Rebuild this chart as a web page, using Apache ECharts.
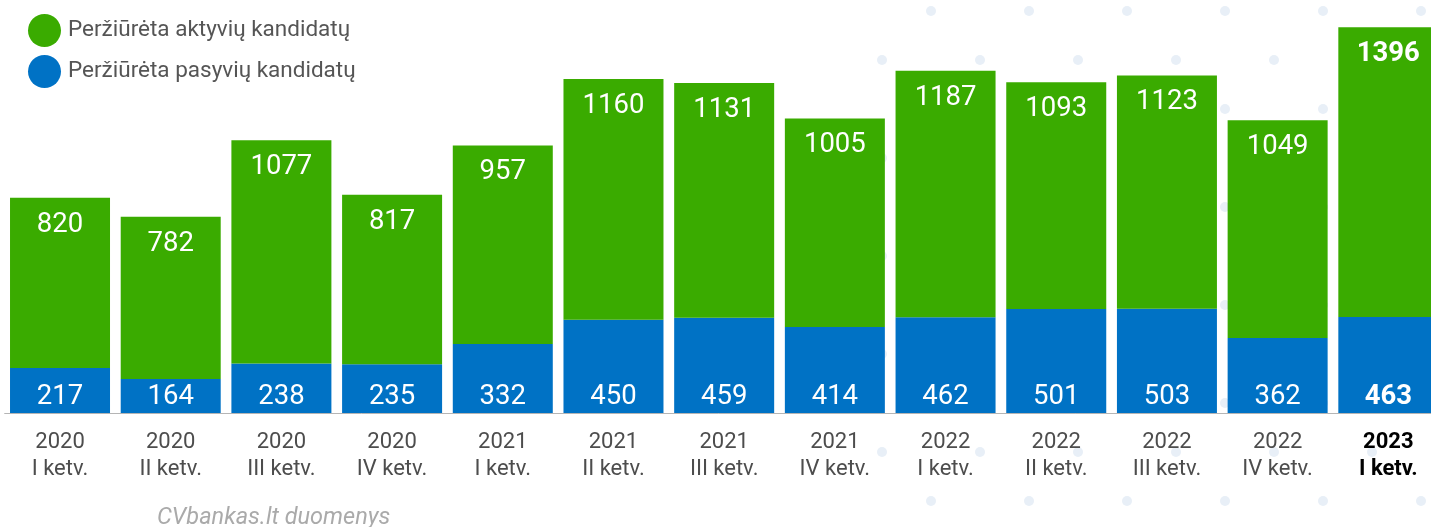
<!DOCTYPE html>
<html>
<head>
<meta charset="utf-8">
<script src="https://cdn.jsdelivr.net/npm/echarts@6/dist/echarts.min.js"></script>
<style>
html,body{margin:0;padding:0;background:#fff;}
#chart{width:1431px;height:527px;}
</style>
</head>
<body>
<div id="chart"></div>
<script>
const years = ['2020','2020','2020','2020','2021','2021','2021','2021','2022','2022','2022','2022','2023'];
const quarters = ['I ketv.','II ketv.','III ketv.','IV ketv.','I ketv.','II ketv.','III ketv.','IV ketv.','I ketv.','II ketv.','III ketv.','IV ketv.','I ketv.'];
const activeValues = [820,782,1077,817,957,1160,1131,1005,1187,1093,1123,1049,1396];
const passiveValues = [217,164,238,235,332,450,459,414,462,501,503,362,463];
const seriesNames = ['Peržiūrėta aktyvių kandidatų','Peržiūrėta pasyvių kandidatų'];
const sourceText = 'CVbankas.lt duomenys';

const GREEN = '#3aab00';
const BLUE = '#0072c5';
const lastIdx = years.length - 1;

const categories = years.map((y, i) => {
  const item = { value: y + '\n' + quarters[i] };
  if (i === lastIdx) item.textStyle = { fontWeight: 'bold', color: '#000' };
  return item;
});

function withBoldLast(arr) {
  return arr.map((v, i) => i === lastIdx ? { value: v, label: { fontWeight: 'bold' } } : v);
}

// decorative dot pattern (background ornament)
const dots = [];
for (let r = 0; r < 11; r++) {
  const y = 11 + r * 49;
  const x0 = (r % 2 === 0) ? 931 : 882;
  for (let x = x0; x < 1440; x += 98) {
    dots.push({ type: 'circle', z: -1, shape: { cx: x, cy: y, r: 5 }, style: { fill: '#e8eff7' }, silent: true });
  }
}

const chart = echarts.init(document.getElementById('chart'), null, { renderer: 'canvas' });
chart.setOption({
  animation: false,
  textStyle: { fontFamily: 'Roboto' },
  grid: { left: 4.67, right: -12.67, top: 18.75, bottom: 114, containLabel: false, outerBoundsMode: 'none' },
  legend: {
    orient: 'vertical',
    left: 23, top: 9,
    icon: 'circle',
    itemWidth: 33, itemHeight: 33,
    itemGap: 8,
    textStyle: { fontFamily: 'Roboto', fontSize: 22.5, color: '#555', padding: [3, 0, 0, 2] },
    data: seriesNames
  },
  xAxis: {
    type: 'category',
    data: categories,
    axisTick: { show: false },
    axisLine: { lineStyle: { color: '#b5b5b5', width: 1 } },
    axisLabel: { fontFamily: 'Roboto', fontSize: 22, color: '#4d4d4d', lineHeight: 27, margin: 16, interval: 0, hideOverlap: false }
  },
  yAxis: { type: 'value', min: 0, max: 1900, show: false, splitLine: { show: false } },
  graphic: dots.concat([{
    type: 'text', left: 157, top: 507,
    style: { text: sourceText, fontFamily: 'Roboto', fontStyle: 'italic', fontSize: 23.5, fill: '#aaa' }
  }]),
  series: [
    {
      name: seriesNames[1], type: 'bar', stack: 'total', barWidth: 100,
      itemStyle: { color: BLUE },
      label: { show: true, position: 'insideBottom', distance: 1.5, color: '#fff', fontFamily: 'Roboto', fontSize: 27.5 },
      data: withBoldLast(passiveValues)
    },
    {
      name: seriesNames[0], type: 'bar', stack: 'total', barWidth: 100,
      itemStyle: { color: GREEN },
      label: { show: true, position: 'insideTop', distance: 13, color: '#fff', fontFamily: 'Roboto', fontSize: 27.5 },
      data: withBoldLast(activeValues)
    }
  ]
});
</script>
</body>
</html>
